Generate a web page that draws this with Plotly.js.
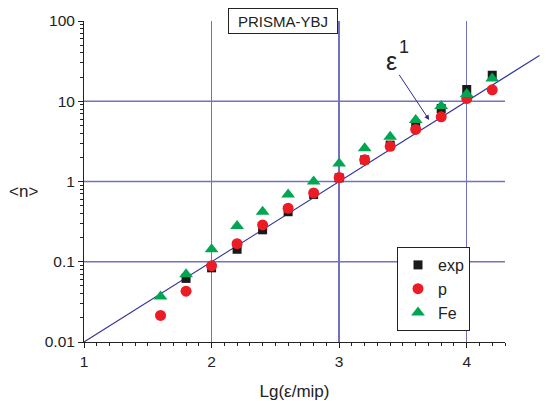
<!DOCTYPE html>
<html>
<head>
<meta charset="utf-8">
<script src="https://cdn.plot.ly/plotly-3.0.1.min.js"></script>
<style>html,body{margin:0;padding:0;background:#fff;}#chart{width:546px;height:401px;}</style>
</head>
<body>
<div id="chart"></div>
<script>
// Data
const expX = [1.8, 2.0, 2.2, 2.4, 2.6, 2.8, 3.0, 3.2, 3.4, 3.6, 3.8, 4.0, 4.2];
const expY = [0.062, 0.084, 0.143, 0.25, 0.42, 0.69, 1.11, 1.86, 2.84, 4.85, 8.1, 14.0, 21.1];
const pX = [1.6, 1.8, 2.0, 2.2, 2.4, 2.6, 2.8, 3.0, 3.2, 3.4, 3.6, 3.8, 4.0, 4.2];
const pY = [0.0214, 0.043, 0.089, 0.168, 0.288, 0.464, 0.72, 1.12, 1.86, 2.74, 4.46, 6.4, 10.8, 13.9];
const feX = [1.6, 1.8, 2.0, 2.2, 2.4, 2.6, 2.8, 3.0, 3.2, 3.4, 3.6, 3.8, 4.0, 4.2];
const feY = [0.037, 0.070, 0.1435, 0.278, 0.42, 0.69, 1.0, 1.68, 2.59, 3.61, 5.82, 8.7, 12.3, 19.2];
const lineX = [1, 4.57];
const lineY = [0.01, 37.2];
const gridY = [0.1, 1, 10];
const xTickVals = [1, 2, 3, 4];
const yTickVals = [0.01, 0.1, 1, 10, 100];

const dom = 421 / 456;
const xMin = 1, xMax = 4.3;
const wideMax = xMin + (xMax - xMin) / dom;
const font = 'Liberation Sans, Arial, sans-serif';
const gridColor = '#7272c0';

const traces = [
  {x: lineX, y: lineY, xaxis: 'x', yaxis: 'y', mode: 'lines',
   line: {color: '#34349c', width: 1.1}, showlegend: false, hoverinfo: 'skip'},
  {x: expX, y: expY, xaxis: 'x2', yaxis: 'y2', mode: 'markers', name: 'exp',
   marker: {symbol: 'square', size: 9, color: '#1a1a1a'}},
  {x: pX, y: pY, xaxis: 'x2', yaxis: 'y2', mode: 'markers', name: 'p',
   marker: {symbol: 'circle', size: 11, color: '#ec1c24'}},
  {x: feX, y: feY, xaxis: 'x2', yaxis: 'y2', mode: 'markers', name: 'Fe',
   marker: {symbol: 'triangle-up', size: 12, color: '#00a651'}}
];

const shapes = gridY.map(v => ({
  type: 'line', xref: 'x2 domain', x0: 0, x1: 1, yref: 'y2', y0: v, y1: v,
  line: {color: gridColor, width: 1.3}, layer: 'below'
}));

const layout = {
  width: 546, height: 401,
  margin: {l: 84, r: 6, t: 21, b: 59},
  paper_bgcolor: '#ffffff', plot_bgcolor: 'rgba(0,0,0,0)',
  font: {family: font, color: '#222', size: 15},
  showlegend: true,
  legend: {x: (397 - 84) / 456, y: 1 - (247 - 21) / 321, xanchor: 'left', yanchor: 'top',
           bgcolor: '#ffffff', bordercolor: '#222', borderwidth: 1,
           font: {family: font, size: 16, color: '#222'}},
  xaxis: {domain: [0, 1], range: [xMin, wideMax], anchor: 'y', visible: false, showgrid: false, fixedrange: true},
  yaxis: {domain: [0, 1], type: 'log', range: [-2, 2], anchor: 'x', visible: false, showgrid: false, fixedrange: true},
  xaxis2: {domain: [0, dom], range: [xMin, xMax], anchor: 'y2',
           tickvals: xTickVals, ticks: 'outside', ticklen: 5, tickcolor: '#222',
           showline: true, linecolor: '#222', linewidth: 1,
           showgrid: true, gridcolor: gridColor, gridwidth: 1.3, zeroline: false,
           minor: {dtick: 0.1, ticks: 'outside', ticklen: 3, tickcolor: '#222', showgrid: false},
           tickfont: {family: font, size: 15.5, color: '#222'},
           title: {text: 'Lg(ε/mip)', font: {family: font, size: 17, color: '#222'}, standoff: 16}},
  yaxis2: {domain: [0, 1], type: 'log', range: [-2, 2], anchor: 'x2',
           tickvals: yTickVals, ticktext: yTickVals.map(String),
           ticks: 'outside', ticklen: 5, tickcolor: '#222',
           showline: true, linecolor: '#222', linewidth: 1, showgrid: false, zeroline: false,
           minor: {dtick: 'D1', ticks: 'outside', ticklen: 3, tickcolor: '#222', showgrid: false},
           tickfont: {family: font, size: 15.5, color: '#222'}},
  shapes: shapes,
  annotations: [
    {text: 'PRISMA-YBJ', xref: 'x2', x: 2.56, yref: 'paper', y: 1, xanchor: 'center', yanchor: 'middle',
     showarrow: false, bgcolor: '#ffffff', bordercolor: '#222', borderwidth: 1, borderpad: 4,
     width: 100, height: 16, font: {family: font, size: 15, color: '#222'}},
    {text: 'ε', xref: 'x2', x: 3.41, yref: 'y2', y: 1.5, showarrow: false,
     xanchor: 'center', yanchor: 'middle', font: {family: font, size: 25, color: '#222'}},
    {text: '1', xref: 'x2', x: 3.51, yref: 'y2', y: 1.67, showarrow: false,
     xanchor: 'center', yanchor: 'middle', font: {family: font, size: 18, color: '#222'}},
    {text: '', xref: 'x2', x: 3.706, yref: 'y2', y: 0.766, axref: 'x2', ax: 3.463, ayref: 'y2', ay: 1.348,
     showarrow: true, arrowhead: 2, arrowsize: 1, arrowwidth: 1, arrowcolor: '#2b2b8c', standoff: 0},
    {text: '&lt;n&gt;', xref: 'paper', x: (23 - 84) / 456, yref: 'paper', y: 1 - (192 - 21) / 321,
     xanchor: 'center', yanchor: 'middle', showarrow: false, font: {family: font, size: 17, color: '#222'}}
  ]
};

Plotly.newPlot('chart', traces, layout, {displayModeBar: false, staticPlot: true});
</script>
</body>
</html>
